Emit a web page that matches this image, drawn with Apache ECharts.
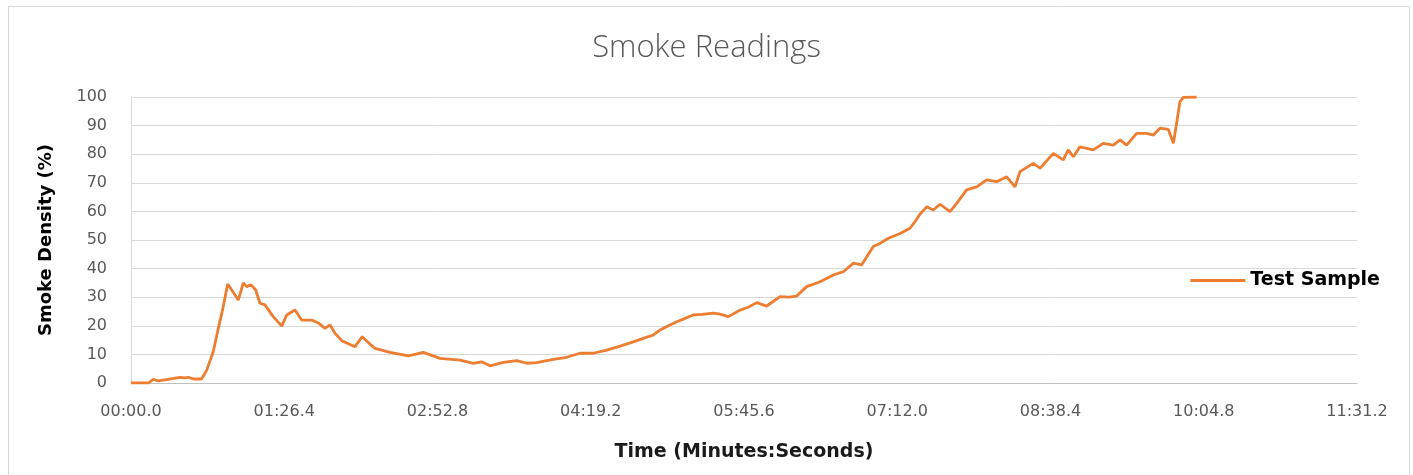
<!DOCTYPE html>
<html>
<head>
<meta charset="utf-8">
<script src="https://cdn.jsdelivr.net/npm/echarts@6/dist/echarts.min.js"></script>
<style>
  html, body { margin: 0; padding: 0; background: #fff; }
  #chart { width: 1413px; height: 475px; }
</style>
</head>
<body>
<div id="chart"></div>
<script>
// time in seconds since start of test
var timeSec = [
  0, 5, 9.8, 12.6, 15.4, 18, 21, 24, 27.6, 30, 32.3, 35.1, 39.8, 42.7, 46.4, 49.2,
  52, 54.5, 56.8, 60.5, 63.3, 65.2, 67.7, 70.3, 72.7, 75.5, 80.2, 85, 87.8, 92.5,
  96.2, 101.9, 105.6, 109.4, 112.2, 115, 118.8, 126.3, 130.4, 134.7, 137.6, 146,
  156.4, 164.8, 174.2, 185.5, 193, 197.7, 202.4, 209.9, 217.5, 223.1, 228.7, 238.1,
  245.6, 253.1, 260.6, 268.2, 275.7, 283.2, 288.8, 294.5, 298.2, 303.9, 307.7, 312,
  317, 322, 328.3, 332.1, 336.8, 343.4, 348, 352.8, 358.4, 362, 365.9, 371, 375.3,
  380.9, 388.5, 396, 401.6, 407.3, 411.9, 418.5, 422.3, 427, 433.6, 439.2, 442,
  444.8, 448.6, 452.3, 456.1, 461.7, 465.5, 471.1, 476.8, 482.4, 488, 493.7, 498.4,
  501.2, 508.7, 512.5, 520, 525.6, 528.4, 531.3, 535, 542.5, 548.2, 553.8, 557.6,
  561.3, 567, 572.6, 576.4, 580.1, 584.8, 587.7, 589.5, 591.4, 593.3, 600.8
];

// smoke density (%)
var smokeDensity = [
  0, 0, 0, 1.3, 0.7, 1.0, 1.3, 1.6, 2.0, 1.8, 2.0, 1.4, 1.4, 4.5, 11, 19,
  26.7, 34.6, 32.5, 29, 35, 33.7, 34.3, 32.5, 27.9, 27.3, 23.2, 19.9, 23.8, 25.5,
  22, 22, 21, 19.1, 20.3, 17.4, 14.8, 12.7, 16.2, 13.6, 12.1, 10.7,
  9.5, 10.7, 8.6, 8, 6.9, 7.4, 6, 7.2, 7.8, 6.9, 7.1, 8.3,
  9, 10.4, 10.4, 11.5, 12.9, 14.4, 15.6, 16.8, 18.5, 20.3, 21.4, 22.5,
  23.8, 24.0, 24.4, 24.1, 23.2, 25.5, 26.5, 28.1, 26.9, 28.5, 30.2, 30.0, 30.4,
  33.7, 35.4, 37.8, 38.9, 41.9, 41.3, 47.7, 48.8, 50.6, 52.3, 54.1, 56.4,
  59, 61.6, 60.5, 62.5, 59.9, 62.8, 67.5, 68.6, 71, 70.4, 72.1, 68.6,
  73.9, 76.8, 75.1, 80.3, 78, 81.5, 79.1, 82.6, 81.5, 83.8, 83.2, 85,
  83.2, 87.3, 87.3, 86.7, 89.1, 88.7, 83.8, 90.8, 98.4, 99.9, 100
];

var seriesName = 'Test Sample';
var xMax = 691.2;
var xStep = 86.4;

function fmtTime(v) {
  var t = Math.round(v * 10) / 10;
  var m = Math.floor(t / 60);
  var s = (t - m * 60).toFixed(1);
  if (parseFloat(s) < 10) s = '0' + s;
  return (m < 10 ? '0' + m : m) + ':' + s;
}

var points = timeSec.map(function (t, i) { return [t, smokeDensity[i]]; });

var chart = echarts.init(document.getElementById('chart'));
chart.setOption({
  animation: false,
  backgroundColor: '#ffffff',
  graphic: [{
    type: 'rect',
    left: 6,
    top: 4,
    silent: true,
    shape: { width: 1401, height: 490 },
    style: { fill: 'none', stroke: '#d9d9d9', lineWidth: 1 }
  }],
  title: {
    text: 'Smoke Readings',
    left: 'center',
    top: 28,
    textStyle: {
      fontFamily: 'Open Sans',
      fontWeight: 300,
      fontSize: 31,
      color: '#595959'
    }
  },
  grid: {
    left: 131,
    right: 56,
    top: 97,
    bottom: 92
  },
  legend: {
    right: 28,
    top: 266,
    orient: 'vertical',
    icon: 'rect',
    itemWidth: 55,
    itemHeight: 3,
    itemGap: 4,
    textStyle: {
      fontFamily: 'DejaVu Sans',
      fontWeight: 'bold',
      fontSize: 19,
      color: '#000'
    },
    data: [seriesName]
  },
  xAxis: {
    type: 'value',
    min: 0,
    max: xMax,
    interval: xStep,
    name: 'Time (Minutes:Seconds)',
    nameLocation: 'middle',
    nameGap: 60,
    nameTextStyle: {
      fontFamily: 'DejaVu Sans',
      fontWeight: 'bold',
      fontSize: 19,
      color: '#1a1a1a'
    },
    axisLine: { show: true, lineStyle: { color: '#bfbfbf', width: 1 } },
    axisTick: { show: false },
    splitLine: { show: false },
    axisLabel: {
      margin: 21,
      fontFamily: 'DejaVu Sans',
      fontSize: 16,
      color: '#595959',
      showMaxLabel: true,
      formatter: fmtTime
    }
  },
  yAxis: {
    type: 'value',
    min: 0,
    max: 100,
    interval: 10,
    name: 'Smoke Density (%)',
    nameLocation: 'middle',
    nameRotate: 90,
    nameGap: 76,
    nameTextStyle: {
      fontFamily: 'DejaVu Sans',
      fontWeight: 'bold',
      fontSize: 18,
      color: '#000'
    },
    axisLine: { show: true, lineStyle: { color: '#d9d9d9', width: 1 } },
    axisTick: { show: false },
    splitLine: { show: true, lineStyle: { color: '#d9d9d9', width: 1 } },
    axisLabel: {
      margin: 24,
      fontFamily: 'DejaVu Sans',
      fontSize: 16,
      color: '#595959'
    }
  },
  series: [{
    name: seriesName,
    type: 'line',
    data: points,
    showSymbol: false,
    symbol: 'none',
    color: '#ed7d31',
    lineStyle: { color: '#ed7d31', width: 2.8 }
  }]
});
</script>
</body>
</html>
